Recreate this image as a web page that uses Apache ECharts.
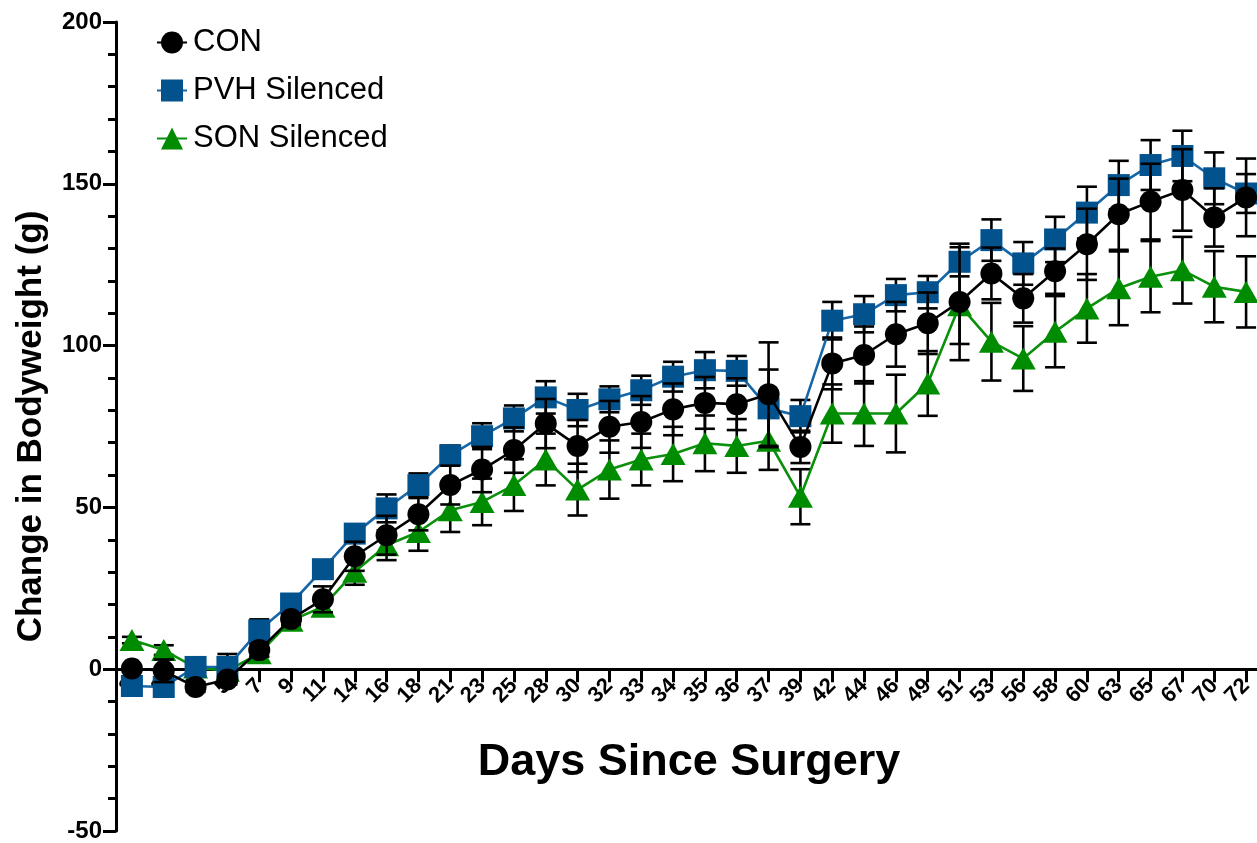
<!DOCTYPE html>
<html>
<head>
<meta charset="utf-8">
<script src="https://cdn.jsdelivr.net/npm/echarts@6/dist/echarts.min.js"></script>
<style>
html,body{margin:0;padding:0;background:#fff;}
#chart{width:1257px;height:843px;}
</style>
</head>
<body>
<div id="chart"></div>
<script>
const days = ['2','3','4','5','7','9','11','14','16','18','21','23','25','28','30','32','33','34','35','36','37','39','42','44','46','49','51','53','56','58','60','63','65','67','70','72'];

const conMean = [0.2,-0.5,-5.5,-3.2,5.9,15.5,21.6,34.9,41.4,47.9,56.9,61.7,67.7,75.9,69,74.9,76.4,80.3,82.3,81.9,85,68.7,94.5,97.1,103.5,106.9,113.5,122.3,114.6,123,131.3,140.6,144.5,148.1,139.6,145.8];
const conSem  = [1,3.5,1.5,1.5,2,1.5,4,4.5,6,5,6,7,7,7.6,8,8,8,8,8,8,16,5,8,8.8,10,9.5,18,8,7.5,7,11,11,11.7,12.6,9,12];

const pvhMean = [-5.2,-5.5,0.7,0.7,12,20.3,30.9,41.9,49.7,56.9,66.1,72,77.5,84,80.1,83.4,86.2,90.4,92.4,92.2,80.6,78.2,107.7,109.7,115.6,116.5,125.9,132.6,125.4,132.8,141.1,149.6,155.8,158.6,151.7,147];
const pvhSem  = [1.5,1.5,1.5,4,3.4,1.5,1.5,1.5,4.3,3.6,3,4,4,5,5,4,4.5,4.6,5.6,4.6,12,5,5.8,5.6,5,5,4.5,6.4,6.6,7,8,7.5,7.7,7.8,8,6];

const sonMean = [9,5.9,0.5,-0.5,4.9,15,19.3,30.1,38.3,42.4,49.1,51.7,56.9,64.8,55.5,61.7,64.8,66.5,69.8,69,70.6,53.3,79,79,79,88.3,112.5,101.2,96,104.3,111.5,117.7,121.3,123.3,118.2,116.6];
const sonSem  = [1,1.5,1,1,1,1.5,2,4,4.6,5.8,6.7,7.2,8,8,8,9,8,8.4,8.6,8.3,9,8.5,9,10,12,10,12,12,10,11,10.6,11.4,11,10.3,11,11];

const FONT = '"Liberation Sans", Arial, sans-serif';

const yMin = -50, yMax = 200;
const gridTop = 22, gridHeight = 809;
// distance from the bottom of the grid up to value 0
const zeroOffset = gridHeight * (0 - yMin) / (yMax - yMin);

function errData(mean, sem) {
  return mean.map((m, i) => [i, m - sem[i], m + sem[i]]);
}

function renderErr(params, api) {
  const x = api.value(0);
  const lo = api.coord([x, api.value(1)]);
  const hi = api.coord([x, api.value(2)]);
  const w = 10;
  const style = { stroke: '#000', lineWidth: 2.6, fill: null };
  return {
    type: 'group',
    children: [
      { type: 'line', shape: { x1: hi[0], y1: hi[1], x2: lo[0], y2: lo[1] }, style: style },
      { type: 'line', shape: { x1: hi[0] - w, y1: hi[1], x2: hi[0] + w, y2: hi[1] }, style: style },
      { type: 'line', shape: { x1: lo[0] - w, y1: lo[1], x2: lo[0] + w, y2: lo[1] }, style: style }
    ]
  };
}

const chart = echarts.init(document.getElementById('chart'), null, { renderer: 'canvas' });

const option = {
  animation: false,
  backgroundColor: '#fff',
  grid: { left: 116, top: gridTop, width: 1146, height: gridHeight, containLabel: false, outerBoundsMode: 'none' },
  legend: {
    data: ['CON', 'PVH Silenced', 'SON Silenced'],
    orient: 'vertical',
    left: 151,
    top: 22,
    itemWidth: 30,
    itemHeight: 27.5,
    itemGap: 17,
    textStyle: { fontSize: 31, fontFamily: FONT, color: '#000', padding: [0, 0, 0, 1], lineHeight: 31 }
  },
  xAxis: {
    type: 'category',
    data: days,
    boundaryGap: true,
    position: 'bottom',
    offset: -zeroOffset,
    name: 'Days Since Surgery',
    nameLocation: 'middle',
    nameGap: 71,
    nameTextStyle: { fontSize: 45, fontWeight: 'bold', fontFamily: FONT, color: '#000' },
    axisLine: { show: true, onZero: false, lineStyle: { color: '#000', width: 3 } },
    axisTick: { show: true, alignWithLabel: true, interval: 0, inside: false, length: 13, lineStyle: { color: '#000', width: 3 } },
    axisLabel: { interval: 0, rotate: 45, fontSize: 22, fontWeight: 'bold', fontFamily: FONT, color: '#000', margin: 13 },
    splitLine: { show: false }
  },
  yAxis: {
    type: 'value',
    min: yMin,
    max: yMax,
    interval: 50,
    name: 'Change in Bodyweight (g)',
    nameLocation: 'middle',
    nameGap: 67,
    nameTextStyle: { fontSize: 35, fontWeight: 'bold', fontFamily: FONT, color: '#000' },
    axisLine: { show: true, lineStyle: { color: '#000', width: 3 } },
    axisTick: { show: true, length: 13, lineStyle: { color: '#000', width: 3 } },
    minorTick: { show: true, splitNumber: 5, length: 8, lineStyle: { color: '#000', width: 3 } },
    axisLabel: { fontSize: 24, fontWeight: 'bold', fontFamily: FONT, color: '#000', margin: 14 },
    splitLine: { show: false }
  },
  series: [
    {
      name: 'SON err', type: 'custom', renderItem: renderErr, data: errData(sonMean, sonSem), z: 1,
      encode: { x: 0, y: [1, 2] }, silent: true
    },
    {
      name: 'SON Silenced', type: 'line', data: sonMean, z: 2,
      symbol: 'triangle', symbolSize: [25, 22],
      itemStyle: { color: '#008c00' },
      lineStyle: { color: '#0a900a', width: 2.6 }
    },
    {
      name: 'PVH err', type: 'custom', renderItem: renderErr, data: errData(pvhMean, pvhSem), z: 3,
      encode: { x: 0, y: [1, 2] }, silent: true
    },
    {
      name: 'PVH Silenced', type: 'line', data: pvhMean, z: 4,
      symbol: 'rect', symbolSize: 22,
      itemStyle: { color: '#02528e' },
      lineStyle: { color: '#1666a8', width: 2.6 }
    },
    {
      name: 'CON err', type: 'custom', renderItem: renderErr, data: errData(conMean, conSem), z: 5,
      encode: { x: 0, y: [1, 2] }, silent: true
    },
    {
      name: 'CON', type: 'line', data: conMean, z: 6,
      symbol: 'circle', symbolSize: 22,
      itemStyle: { color: '#000' },
      lineStyle: { color: '#000', width: 2.6 }
    }
  ]
};

chart.setOption(option);
</script>
</body>
</html>
